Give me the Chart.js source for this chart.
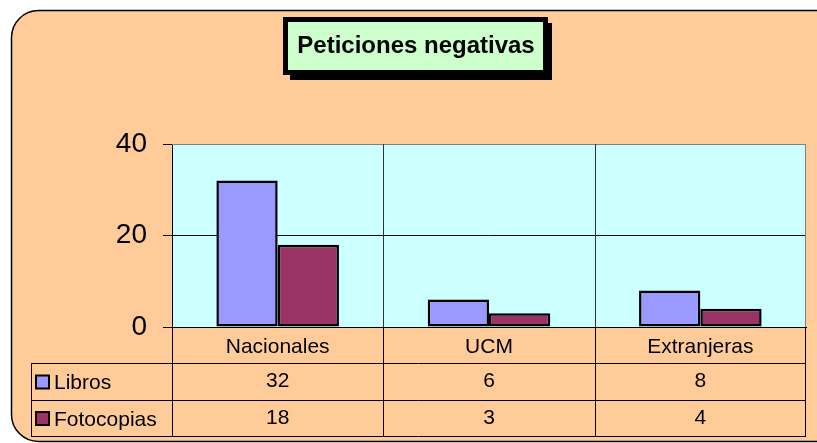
<!DOCTYPE html>
<html>
<head>
<meta charset="utf-8">
<title>Peticiones negativas</title>
<script src="https://cdn.jsdelivr.net/npm/chart.js@4.4.0/dist/chart.umd.min.js"></script>
<style>
	html, body { margin: 0; padding: 0; background: #fff; }
	#wrap { position: relative; width: 817px; height: 443px; }
</style>
</head>
<body>
<div id="wrap"><canvas id="chart"></canvas></div>
<script>
;(function (window, document, undefined) {
	'use strict';

	// data
	const title		= 'Peticiones negativas';
	const categories	= ['Nacionales', 'UCM', 'Extranjeras'];
	const seriesNames	= ['Libros', 'Fotocopias'];
	const libros		= [32, 6, 8];
	const fotocopias	= [18, 3, 4];
	const yTicks		= [0, 20, 40];

	const FONT	= '"Liberation Sans", Arial, sans-serif';
	const colors	= ['#9999FF', '#993366'];
	const rows	= [libros, fotocopias];

	// table rows below the axis: category row, then one row per series
	const tableLeft	= 31;
	const rowLines	= [363, 400, 436];

	let frame = {
		id: 'frame',
		beforeDraw: function (chart) {
			let ctx	= chart.ctx;
			let a	= chart.chartArea;

			ctx.save();
			ctx.fillStyle = '#fff';
			ctx.fillRect(0, 0, chart.width, chart.height);

			// peach panel, runs off the right edge
			ctx.beginPath();
			ctx.roundRect(11.5, 10.5, 832, 431, 27);
			ctx.fillStyle = '#FFCC99';
			ctx.fill();
			ctx.lineWidth = 1.5;
			ctx.strokeStyle = '#000';
			ctx.stroke();

			// title box with shadow
			ctx.fillStyle = '#000';
			ctx.fillRect(290, 23, 262, 57);
			ctx.fillRect(283, 17, 265, 58);
			ctx.fillStyle = '#CCFFCC';
			ctx.fillRect(288, 22, 255, 48);
			ctx.fillStyle = '#000';
			ctx.font = 'bold 24px ' + FONT;
			ctx.textAlign = 'center';
			ctx.textBaseline = 'alphabetic';
			ctx.fillText(title, 416, 53);

			// plot area
			ctx.fillStyle = '#CCFFFF';
			ctx.fillRect(a.left, a.top, a.right - a.left, a.bottom - a.top);
			ctx.restore();
		},
		afterDraw: function (chart) {
			let ctx		= chart.ctx;
			let a		= chart.chartArea;
			let x		= chart.scales.x;
			let step	= (x.right - x.left) / categories.length;
			let bottom	= rowLines[rowLines.length - 1];

			ctx.save();
			ctx.lineWidth = 1;

			// grey plot border top / right
			ctx.strokeStyle = '#808080';
			ctx.beginPath();
			ctx.moveTo(a.left, a.top + 0.5);
			ctx.lineTo(a.right - 0.5, a.top + 0.5);
			ctx.lineTo(a.right - 0.5, a.bottom);
			ctx.stroke();

			// category separators inside the plot
			ctx.strokeStyle = '#333';
			ctx.beginPath();
			for (let i = 1; i < categories.length; i++) {
				let px = Math.round(x.left + step * i) + 0.5;
				ctx.moveTo(px, a.top);
				ctx.lineTo(px, a.bottom);
			}
			ctx.stroke();

			// data table grid
			ctx.strokeStyle = '#000';
			ctx.beginPath();
			for (let i = 0; i <= categories.length; i++) {
				let px = Math.round(x.left + step * i) + (i === categories.length ? -0.5 : 0.5);
				ctx.moveTo(px, a.bottom);
				ctx.lineTo(px, bottom);
			}
			ctx.moveTo(tableLeft + 0.5, rowLines[0]);
			ctx.lineTo(tableLeft + 0.5, bottom);
			rowLines.forEach(function (y) {
				ctx.moveTo(tableLeft, y + 0.5);
				ctx.lineTo(x.right, y + 0.5);
			});
			ctx.stroke();

			// legend keys, names and values
			ctx.font = '21px ' + FONT;
			ctx.textBaseline = 'middle';
			ctx.fillStyle = '#000';
			rows.forEach(function (vals, r) {
				let mid = (rowLines[r] + rowLines[r + 1]) / 2;

				ctx.fillStyle = colors[r];
				ctx.fillRect(36, mid - 6, 13, 13);
				ctx.lineWidth = 2;
				ctx.strokeStyle = '#000';
				ctx.strokeRect(36, mid - 6, 13, 13);

				ctx.fillStyle = '#000';
				ctx.textAlign = 'left';
				ctx.fillText(seriesNames[r], 54, mid + 2);

				ctx.textAlign = 'center';
				vals.forEach(function (v, i) {
					ctx.fillText(String(v), x.getPixelForValue(i), mid);
				});
			});
			ctx.restore();
		}
	};

	let ctx = document.getElementById('chart').getContext('2d');
	new Chart(ctx, {
		type: 'bar',
		data: {
			labels: categories,
			datasets: [{
				label: seriesNames[0],
				data: libros,
				backgroundColor: colors[0],
				borderColor: '#000',
				borderWidth: 2.5,
				borderSkipped: false
			}, {
				label: seriesNames[1],
				data: fotocopias,
				backgroundColor: colors[1],
				borderColor: '#000',
				borderWidth: 2.5,
				borderSkipped: false
			}]
		},
		options: {
			responsive: true,
			maintainAspectRatio: false,
			animation: false,
			layout: {
				padding: { left: 20, top: 144, right: 11, bottom: 80 }
			},
			datasets: {
				bar: { categoryPercentage: 0.58, barPercentage: 1 }
			},
			plugins: {
				legend: { display: false },
				tooltip: { enabled: false },
				title: { display: false }
			},
			scales: {
				x: {
					grid: { display: false, drawTicks: false },
					border: { display: true, color: '#000', width: 1 },
					ticks: {
						color: '#000',
						padding: 8,
						maxRotation: 0,
						font: { family: FONT, size: 21 }
					},
					afterFit: function (scale) {
						scale.height = 36;
					}
				},
				y: {
					min: 0,
					max: 40,
					afterBuildTicks: function (scale) {
						scale.ticks = yTicks.map(function (v) {
							return { value: v };
						});
					},
					grid: {
						color: function (c) {
							return c.tick && c.tick.value === 40 ? '#808080' : '#000';
						},
						tickColor: '#000',
						tickLength: 9
					},
					border: { display: true, color: '#000', width: 1 },
					ticks: {
						color: '#000',
						padding: 16,
						font: { family: FONT, size: 28 }
					},
					afterFit: function (scale) {
						scale.width = 152;
					}
				}
			}
		},
		plugins: [frame]
	});

})(window, document);
</script>
</body>
</html>
